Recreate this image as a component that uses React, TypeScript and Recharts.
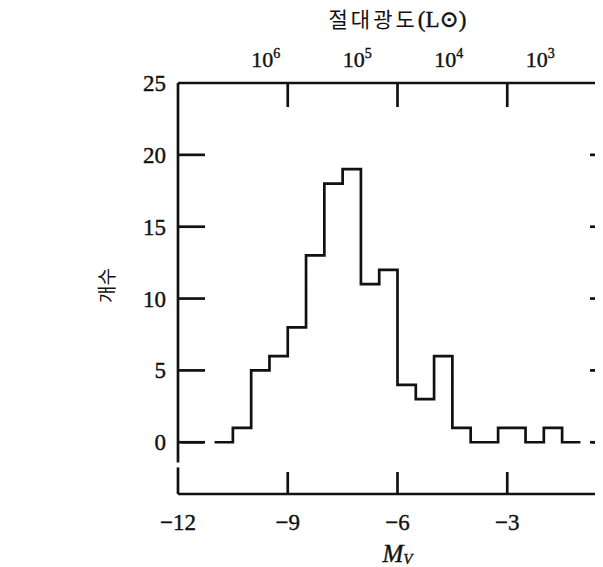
import { LineChart, Line, XAxis, YAxis, ReferenceLine } from 'recharts';

// bin edges (M_V) and star counts per bin
const binEdges = [-11, -10.5, -10, -9.5, -9, -8.5, -8, -7.5, -7, -6.5, -6, -5.5, -5, -4.5, -4, -3.25, -2.5, -2, -1.5, -1];
const binCounts = [0, 1, 5, 6, 8, 13, 18, 19, 11, 12, 4, 3, 6, 1, 0, 1, 0, 1, 0];
// dashed zero line pieces on both ends
const leftDashX = [-11.9, -11.3];
const rightDashX = [-0.67, 0];

const magTicks = [-12, -9, -6, -3, 0];
const countTicks = [0, 5, 10, 15, 20, 25];
const lumLabelPos = [-9.6, -7.1, -4.6, -2.1];
const lumExponents = ['6', '5', '4', '3'];
const lumMarks = [-9, -6, -3];

// one series; null points break the line between the dashes and the histogram
const histData = [
  ...leftDashX.map((x) => ({ x, n: 0 as number | null })),
  { x: leftDashX[1], n: null },
  ...binEdges.map((x, i) => ({ x, n: binCounts[Math.min(i, binCounts.length - 1)] as number | null })),
  { x: binEdges[binEdges.length - 1], n: null },
  ...rightDashX.map((x) => ({ x, n: 0 as number | null })),
];
const topTicks = [...lumLabelPos, ...lumMarks].sort((a, b) => a - b);

const INK = '#111';
const SERIF = '"Liberation Serif", "DejaVu Serif", serif';
const SW = 2.7;
const heavy = { stroke: INK, strokeWidth: 0.4 };

const BottomTick = (p: any) => {
  const v = p.payload.value;
  if (v === 0) return <g />;
  return (
    <g>
      {v !== -12 && (
        <line x1={p.x} x2={p.x} y1={p.y} y2={p.y - 22} stroke={INK} strokeWidth={SW} />
      )}
      <text x={p.x} y={p.y + 36} textAnchor="middle" fontFamily={SERIF} fontSize={23} fill={INK} {...heavy}>
        {'\u2212' + Math.abs(v)}
      </text>
    </g>
  );
};

const TopTick = (p: any) => {
  const v = p.payload.value;
  const li = lumLabelPos.indexOf(v);
  if (li < 0) {
    return <line x1={p.x} x2={p.x} y1={p.y} y2={p.y + 24} stroke={INK} strokeWidth={SW} />;
  }
  return (
    <text x={p.x} y={p.y - 16} textAnchor="middle" fontFamily={SERIF} fontSize={22} fill={INK} {...heavy}>
      <tspan>10</tspan>
      <tspan dy={-9} fontSize={14}>{lumExponents[li]}</tspan>
    </text>
  );
};

const LeftTick = (p: any) => {
  const v = p.payload.value;
  return (
    <g>
      {v !== 25 && <line x1={p.x} x2={p.x + 27} y1={p.y} y2={p.y} stroke={INK} strokeWidth={SW} />}
      <text x={p.x - 12} y={p.y + 8} textAnchor="end" fontFamily={SERIF} fontSize={23} fill={INK} {...heavy}>
        {v}
      </text>
    </g>
  );
};

const RightTick = (p: any) => {
  const v = p.payload.value;
  if (v === 25) return <g />;
  return <line x1={p.x} x2={p.x - 27} y1={p.y} y2={p.y} stroke={INK} strokeWidth={SW} />;
};

const TopTitle = (p: any) => {
  const vb = p.viewBox;
  return (
    <text x={vb.x + vb.width / 2} y={vb.y + 19} textAnchor="middle" fill={INK}>
      <tspan fontFamily='"Noto Sans CJK KR", sans-serif' fontSize={21} letterSpacing={3}>절대광도</tspan>
      <tspan fontFamily={SERIF} fontSize={23} {...heavy}>(L⊙)</tspan>
    </text>
  );
};

const BottomTitle = (p: any) => {
  const vb = p.viewBox;
  return (
    <text x={vb.x + vb.width / 2} y={vb.y + 68} textAnchor="middle" fontFamily={SERIF} fontStyle="italic" fill={INK} {...heavy}>
      <tspan fontSize={25}>M</tspan>
      <tspan fontSize={15} dy={2}>V</tspan>
    </text>
  );
};

const LeftTitle = (p: any) => {
  const vb = p.viewBox;
  const cx = vb.x + 97;
  const cy = vb.y + vb.height / 2 - 3;
  return (
    <text
      x={cx}
      y={cy}
      textAnchor="middle"
      dominantBaseline="central"
      transform={`rotate(-90 ${cx} ${cy})`}
      fontFamily='"Noto Sans CJK KR", sans-serif'
      fontSize={19}
      fill={INK}
    >
      개수
    </text>
  );
};

export default function App() {
  return (
    <div style={{ width: 603, height: 567, overflow: 'hidden', background: '#fff', margin: '-8px 0 0 -8px' }}>
      <LineChart width={708} height={567} data={histData} margin={{ top: 8, right: 61, bottom: 0, left: 8 }}>
        <XAxis
          xAxisId="b"
          dataKey="x"
          type="number"
          domain={[-12, 0]}
          ticks={magTicks}
          interval={0}
          height={73}
          tickSize={0}
          tickMargin={0}
          tickLine={false}
          axisLine={{ stroke: INK, strokeWidth: SW }}
          tick={BottomTick}
          label={{ content: BottomTitle }}
          allowDataOverflow
        />
        <XAxis
          xAxisId="t"
          orientation="top"
          dataKey="x"
          type="number"
          domain={[-12, 0]}
          ticks={topTicks}
          interval={0}
          height={75}
          tickSize={0}
          tickMargin={0}
          tickLine={false}
          axisLine={{ stroke: INK, strokeWidth: SW }}
          tick={TopTick}
          label={{ content: TopTitle }}
          allowDataOverflow
        />
        <YAxis
          yAxisId="l"
          type="number"
          domain={[-3.6, 25]}
          ticks={countTicks}
          interval={0}
          width={170}
          tickSize={0}
          tickMargin={0}
          tickLine={false}
          axisLine={false}
          tick={LeftTick}
          label={{ content: LeftTitle }}
          allowDataOverflow
        />
        <YAxis
          yAxisId="r"
          orientation="right"
          type="number"
          domain={[-3.6, 25]}
          ticks={countTicks}
          interval={0}
          width={30}
          tickSize={0}
          tickMargin={0}
          tickLine={false}
          axisLine={{ stroke: INK, strokeWidth: SW }}
          tick={RightTick}
          allowDataOverflow
        />
        <ReferenceLine
          xAxisId="b"
          yAxisId="l"
          segment={[{ x: -12, y: 25 }, { x: -12, y: -1.4 }]}
          stroke={INK}
          strokeWidth={SW}
          ifOverflow="visible"
        />
        <ReferenceLine
          xAxisId="b"
          yAxisId="l"
          segment={[{ x: -12, y: -1.75 }, { x: -12, y: -3.6 }]}
          stroke={INK}
          strokeWidth={SW}
          ifOverflow="visible"
        />
        <Line
          xAxisId="b"
          yAxisId="l"
          dataKey="n"
          type="stepAfter"
          stroke={INK}
          strokeWidth={SW}
          dot={false}
          connectNulls={false}
          isAnimationActive={false}
        />
      </LineChart>
    </div>
  );
}
